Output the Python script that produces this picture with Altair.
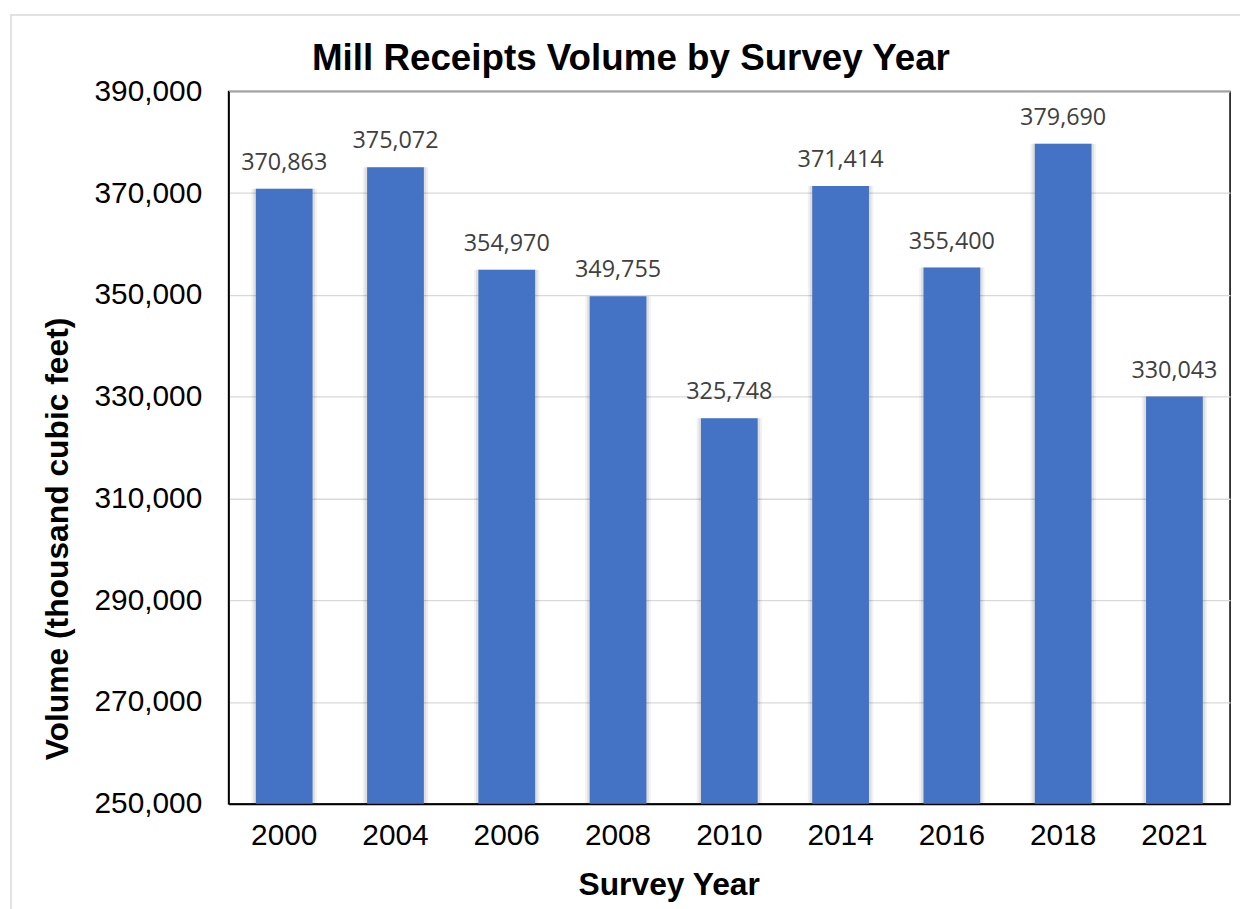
import altair as alt
import pandas as pd

years = ["2000", "2004", "2006", "2008", "2010", "2014", "2016", "2018", "2021"]
volumes = [370863, 375072, 354970, 349755, 325748, 371414, 355400, 379690, 330043]
y_ticks = [250000, 270000, 290000, 310000, 330000, 350000, 370000, 390000]
title_text = "Mill Receipts Volume by Survey Year"

df = pd.DataFrame({"Year": years, "Volume": volumes})

W, H = 1008, 717
PL, PT = 222, 81

x_enc = alt.X(
    "Year:N",
    sort=years,
    scale=alt.Scale(paddingInner=0.49, paddingOuter=0.245),
    axis=alt.Axis(
        title="Survey Year",
        labelAngle=0,
        labelPadding=17,
        ticks=False,
        domainColor="#000000",
        domainWidth=2,
        titleX=443,
        titleY=91,
        titleBaseline="alphabetic",
        titleAlign="center",
    ),
)

y_enc = alt.Y(
    "Volume:Q",
    scale=alt.Scale(domain=[250000, 390000], nice=False, zero=False),
    axis=alt.Axis(
        title="Volume (thousand cubic feet)",
        values=y_ticks,
        labelExpr="format(datum.value, ',')",
        labelPadding=27,
        ticks=False,
        domainColor="#000000",
        domainWidth=1.5,
        grid=True,
        gridColor="#d9d9d9",
        gridWidth=1.3,
        titleAngle=-90,
        titleX=-162,
        titleY=450,
        titleBaseline="alphabetic",
        titleAlign="center",
    ),
)

base = alt.Chart(df)
one = base.transform_filter("datum.Year == '2000'")

border = one.mark_rect(
    fill=None, stroke="#d9d9d9", strokeWidth=1.5, clip=False
).encode(
    x=alt.value(-219), x2=alt.value(1025), y=alt.value(-77), y2=alt.value(830)
)

title = one.mark_text(
    font="Liberation Sans",
    fontSize=37,
    fontWeight="bold",
    color="#000000",
    align="center",
    baseline="alphabetic",
).encode(x=alt.value(405), y=alt.value(-22), text=alt.value(title_text))

shadow1 = base.mark_bar(color="#000000", opacity=0.05, size=66).encode(
    x=x_enc, y=y_enc, y2=alt.datum(250000)
)
shadow2 = base.mark_bar(color="#000000", opacity=0.08, size=62).encode(
    x=x_enc, y=y_enc, y2=alt.datum(250000)
)

bars = base.mark_bar(color="#4472C4").encode(
    x=x_enc, y=y_enc, y2=alt.datum(250000)
)

labels = base.mark_text(
    dy=-19,
    baseline="alphabetic",
    fontSize=23.5,
    font="Open Sans",
    color="#404040",
).encode(x=x_enc, y=y_enc, text=alt.Text("Volume:Q", format=","))

chart = (
    alt.layer(border, shadow1, shadow2, bars, labels, title)
    .properties(
        width=W,
        height=H,
        background="#ffffff",
        autosize=alt.AutoSizeParams(type="none"),
        padding={"left": PL, "top": PT, "right": 10, "bottom": 103},
    )
    .configure_view(stroke="#000000", strokeWidth=1.5)
    .configure_axis(
        labelFontSize=30,
        labelFont="Liberation Sans",
        labelColor="#000000",
        titleFontSize=32,
        titleFont="Liberation Sans",
        titleFontWeight="bold",
        titleColor="#000000",
    )
)

chart.save("out.html", embed_options={"renderer": "svg", "actions": False})
